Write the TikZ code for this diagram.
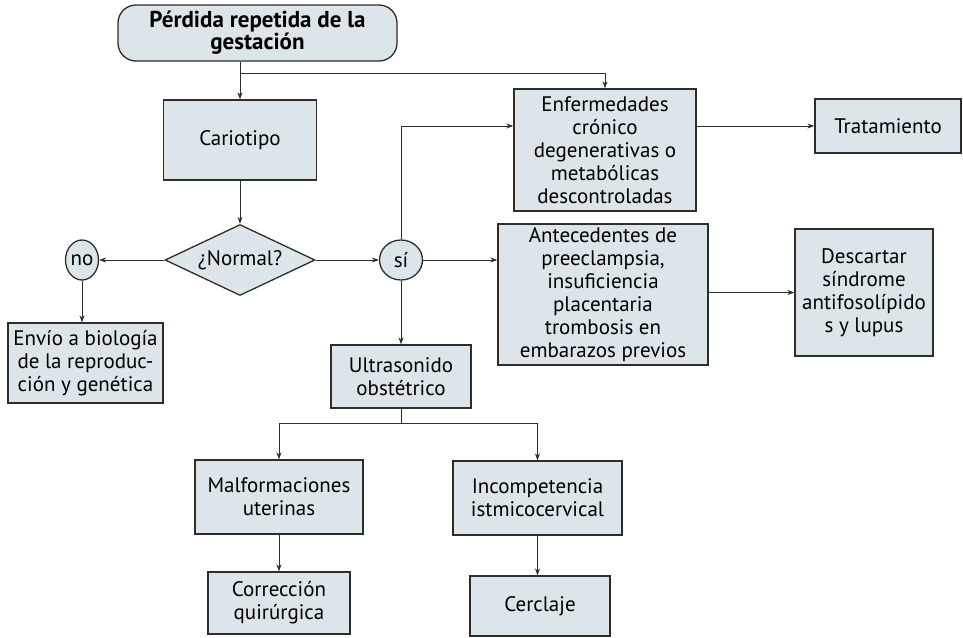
\documentclass[tikz,border=0pt]{standalone}
\usepackage{fontspec}
\setmainfont{PT Sans}
\usetikzlibrary{shapes.geometric}
\usetikzlibrary{arrows.meta}
\definecolor{boxFill}{RGB}{220,230,234}
\definecolor{lineGray}{RGB}{45,45,45}

\begin{document}
\begin{tikzpicture}
[x=1pt,y=-1pt,
  lineDecorate/.style={-{Stealth[length=7pt,width=5pt]},line width=0.8pt,draw=lineGray},%
  plainDecorate/.style={-,line width=0.8pt,draw=lineGray},%
  nodeDecorate/.style={shape=rectangle,draw=lineGray,fill=boxFill,line width=1.3pt,
    inner sep=1pt,align=center,font=\fontsize{21}{23}\selectfont},%
  startDecorate/.style={nodeDecorate,rounded corners=18pt,font=\fontsize{23}{22}\selectfont\bfseries},%
  askDecorate/.style={nodeDecorate,shape=diamond,aspect=2.1,inner sep=0pt},%
  answerDecorate/.style={nodeDecorate,shape=ellipse,inner sep=0pt}]
\useasboundingbox (0,0) rectangle (963,637);
%% nodes or vertices
\node (Perdida) at (257.5,33) [startDecorate,minimum width=279pt,minimum height=56pt]
  {Pérdida repetida de la\\gestación};
\node (Normal) at (240,260) [askDecorate,minimum width=150pt,minimum height=71pt] {¿Normal?};
\node (No) at (82,260) [answerDecorate,minimum width=33pt,minimum height=40pt] {no};
\node (Si) at (401,260) [answerDecorate,minimum width=43pt,minimum height=40pt] {sí};
\foreach \nodename/\x/\y/\w/\h/\txt in {
  Cariotipo/240/140/153/80/{Cariotipo},
  Envio/85.5/363/155/80/{Envío a biología\\de la reproduc-\\ción y genética},
  Enfermedades/605/150/182/122/{Enfermedades\\crónico\\degenerativas o\\metabólicas\\descontroladas},
  Tratamiento/888/126/146/54/{Tratamiento},
  Antecedentes/603/294.5/210/141/{Antecedentes de\\preeclampsia,\\insuficiencia\\placentaria\\trombosis en\\embarazos previos},
  Descartar/864/292.5/138/127/{Descartar\\síndrome\\antifosolípido\\s y lupus},
  Ultrasonido/401/376.5/140/63/{Ultrasonido\\obstétrico},
  Malformaciones/279/497/168/74/{Malformaciones\\uterinas},
  Incompetencia/537.5/498/169/74/{Incompetencia\\istmicocervical},
  Correccion/279/603/142/62/{Corrección\\quirúrgica},
  Cerclaje/540/606/140/60/{Cerclaje}}
{
  \node (\nodename) at (\x,\y) [nodeDecorate,minimum width=\w pt,minimum height=\h pt] {\txt};
}
\coordinate (TopSplit) at (240,73);
\coordinate (SiUp) at (401,126);
\coordinate (UsSplit) at (401,423);
%% edges or lines
\path
\foreach \startnode/\endnode in {
  Cariotipo/Normal, Normal/No, Normal/Si, Si/Ultrasonido, Malformaciones/Correccion}
{
  (\startnode) edge[lineDecorate] (\endnode)
};
\draw[lineDecorate] (TopSplit |- Perdida.south) -- (Cariotipo.north);
\draw[lineDecorate] (TopSplit) -| (Enfermedades.north);
\draw[lineDecorate] (No) -- (No |- Envio.north);
\draw[lineDecorate] (Si) |- (SiUp -| Enfermedades.west);
\draw[lineDecorate] (Enfermedades.east |- Tratamiento) -- (Tratamiento.west);
\draw[lineDecorate] (Si) -- (Si -| Antecedentes.west);
\draw[lineDecorate] (Antecedentes.east |- Descartar) -- (Descartar.west);
\draw[plainDecorate] (Ultrasonido) -- (UsSplit);
\draw[lineDecorate] (UsSplit) -| (Malformaciones.north);
\draw[lineDecorate] (UsSplit) -| (Incompetencia.north);
\draw[lineDecorate] (Incompetencia) -- (Incompetencia |- Cerclaje.north);
\end{tikzpicture}
\end{document}
